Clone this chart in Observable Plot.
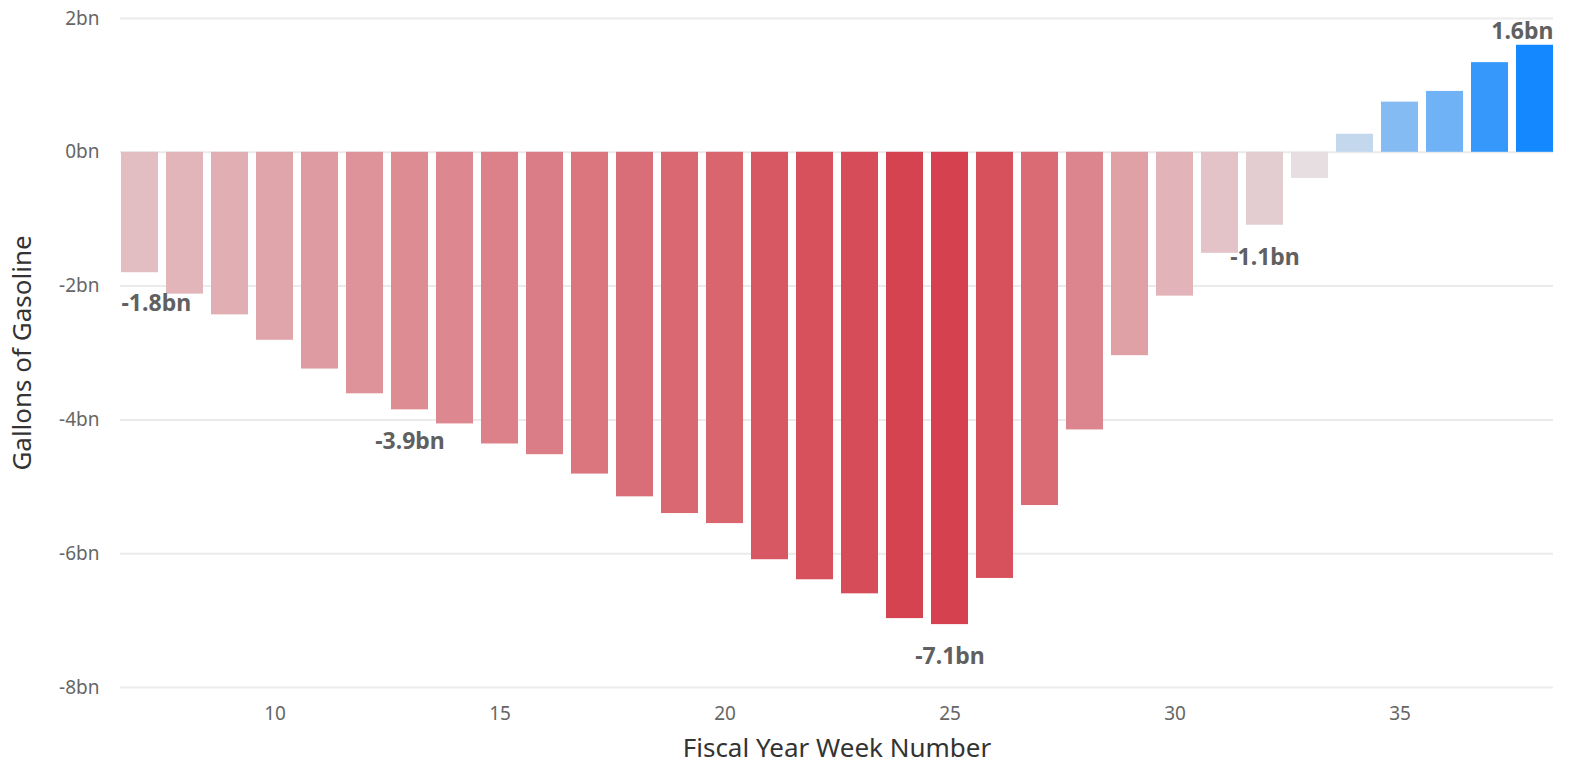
<!DOCTYPE html>
<html><head><meta charset="utf-8">
<script src="https://cdn.jsdelivr.net/npm/d3@7"></script>
<script src="https://cdn.jsdelivr.net/npm/@observablehq/plot@0.6"></script>
<style>body{margin:0;background:#fff;}</style>
</head><body><div id="chart"></div>
<script>
const weeks = [7,8,9,10,11,12,13,14,15,16,17,18,19,20,21,22,23,24,25,26,27,28,29,30,31,32,33,34,35,36,37,38];
const gallons = [-1.80,-2.12,-2.43,-2.81,-3.24,-3.61,-3.85,-4.06,-4.36,-4.52,-4.81,-5.15,-5.40,-5.55,-6.09,-6.39,-6.60,-6.97,-7.06,-6.37,-5.28,-4.15,-3.04,-2.15,-1.51,-1.09,-0.39,0.27,0.75,0.91,1.34,1.60];
const labelWeeks = [7,13,25,32,38];
const yTicks = [2,0,-2,-4,-6,-8];
const xTicks = [10,15,20,25,30,35];
const xTitle = "Fiscal Year Week Number";
const yTitle = "Gallons of Gasoline";

const data = weeks.map((w,i)=>({week:w, value:gallons[i]}));
const fmt = v => `${v.toFixed(1)}bn`;
const labeled = data.filter(d => labelWeeks.includes(d.week));
const first = labeled.filter(d => d.week === weeks[0]);
const last = labeled.filter(d => d.week === weeks[weeks.length-1]);
const middle = labeled.filter(d => d.week !== weeks[0] && d.week !== weeks[weeks.length-1]);
const font = "'Segoe UI','Noto Sans','Open Sans',sans-serif";
const labelStyle = {fill:"#606060", fontWeight:"bold", fontSize:23, text: d => fmt(d.value)};

const chart = Plot.plot({
  width:1569, height:771,
  marginTop:18, marginBottom:84, marginLeft:120, marginRight:16,
  style:{fontFamily:font, fontSize:"19px", color:"#666", background:"#fff"},
  x:{type:"band", domain:weeks, paddingInner:0.18, paddingOuter:0},
  y:{domain:[-8,2]},
  color:{type:"linear", domain:[-7.06,0,1.6], range:["#d5414e","#e7e7e9","#1489ff"], interpolate:"rgb"},
  marks:[
    Plot.gridY(yTicks, {stroke:"#ebebeb", strokeOpacity:1, strokeWidth:2}),
    Plot.axisY({ticks:yTicks, tickSize:0, tickPadding:21, label:null, tickFormat: d => `${d}bn`, fill:"#666", fontSize:19}),
    Plot.axisX({ticks:xTicks, tickSize:0, tickPadding:19, label:null, fill:"#666", fontSize:19}),
    Plot.barY(data, {x:"week", y:"value", fill:"value"}),
    Plot.text(middle, {x:"week", y:"value", dy:32, ...labelStyle}),
    Plot.text(first, {x:"week", y:"value", dy:31, dx:-18.5, textAnchor:"start", ...labelStyle}),
    Plot.text(last, {x:"week", y:"value", dy:-14, dx:18.5, textAnchor:"end", ...labelStyle}),
    Plot.text([xTitle], {frameAnchor:"bottom", dy:61, textAnchor:"middle", lineAnchor:"middle", fontSize:26, fill:"#333"}),
    Plot.text([yTitle], {frameAnchor:"left", rotate:-90, dx:-98, textAnchor:"middle", lineAnchor:"middle", fontSize:26, fill:"#333"})
  ]
});
document.getElementById("chart").appendChild(chart);
</script>
</body></html>
